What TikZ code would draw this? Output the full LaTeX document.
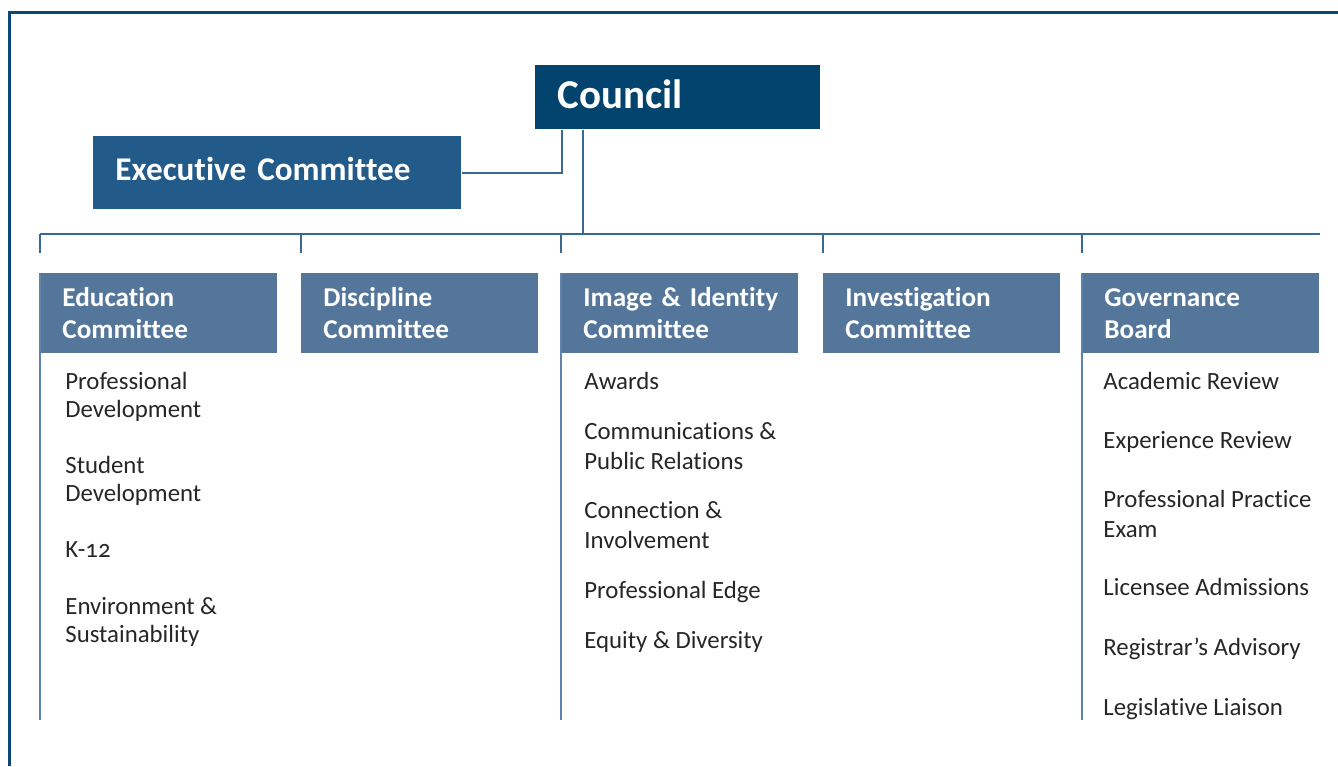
\documentclass[tikz,border=0pt]{standalone}
\usepackage{fontspec}
\setmainfont[Numbers=OldStyle, Ligatures={TeX,NoCommon},
  BoldFeatures={WordSpace=0.7}]{Carlito}
\usepackage{tikz}
\usetikzlibrary{positioning}

\definecolor{frameblue}{HTML}{0A4877}
\definecolor{councilblue}{HTML}{03446F}
\definecolor{execblue}{HTML}{225A89}
\definecolor{cmteblue}{HTML}{54769A}
\definecolor{linkblue}{HTML}{3A6895}
\definecolor{colblue}{HTML}{5E83AC}
\definecolor{itemgrey}{HTML}{262626}

\begin{document}
\begin{tikzpicture}[x=0.5pt,y=-0.5pt,
    box/.style={fill=#1, text=white, anchor=north west, align=left,
      inner xsep=11pt, inner ysep=0pt},
    cmte/.style={minimum width=118.5pt, minimum height=40pt, text width=96.5pt,
      font=\bfseries\fontsize{13.6}{16}\selectfont},
    link/.style={draw=linkblue, line width=1.1pt},
    column/.style={draw=colblue, line width=1.2pt},
    item/.style={anchor=base west, align=left, text=itemgrey, inner sep=0pt,
      font=\fontsize{12.4}{14}\selectfont}]
  \useasboundingbox (0,0) rectangle (1338,766);

  % outer frame
  \draw[frameblue, line width=1.5pt] (9.5,766) -- (9.5,12.5) -- (1338,12.5);

  % top of the tree
  \node[box=councilblue, minimum width=142.5pt, minimum height=32pt, text width=120.5pt,
    text depth=3pt, font=\bfseries\fontsize{20.5}{24}\selectfont] (council) at (535,65) {Council};
  \node[box=execblue, minimum width=184pt, minimum height=36.5pt, text width=162pt,
    text depth=4pt, font=\bfseries\fontsize{16.6}{20}\selectfont] (exec) at (93,136) {Executive Committee};

  % committees
  \foreach \name/\x/\txt in {edu/40/{Education\\Committee},
      disc/301/{Discipline\\Committee},
      img/561/{\mbox{Image \& Identity}\\Committee},
      inv/823/{Investigation\\Committee},
      gov/1082/{Governance\\Board}}
    \node[box=cmteblue, cmte] (\name) at (\x,273) {\txt};

  % connectors
  \coordinate (bus) at (583,234);
  \coordinate (colend) at (0,720);
  \draw[link] (exec.east) -| ([xshift=13.5pt]council.south west);
  \draw[link] ([xshift=24pt]council.south west) -- (bus);
  \draw[link] (edu.north west |- bus) -- (gov.north east |- bus);
  \foreach \name in {edu,disc,img,inv,gov}
    \draw[link] (\name.north west |- bus) -- ++(0,19);
  \foreach \name in {edu,img,gov}
    \draw[column] (\name.north west) -- (\name.north west |- colend);

  % working groups under each committee (y = baseline of last line)
  \foreach \txt/\y [count=\i] in {{Professional\\Development}/417,
      {Student\\Development}/501, {K-12}/557,
      {Environment \&\\Sustainability}/642}
    \node[item] (edu-\i) at (65,\y) {\txt};
  \foreach \txt/\y [count=\i] in {{Awards}/389,
      {Communications \&\\Public Relations}/469,
      {Connection \&\\Involvement}/548,
      {Professional Edge}/598, {Equity \& Diversity}/648}
    \node[item, font=\fontsize{12.4}{14.75}\selectfont] (img-\i) at (584,\y) {\txt};
  \foreach \txt/\y [count=\i] in {{Academic Review}/389,
      {Experience Review}/448,
      {Professional Practice\\Exam}/537,
      {Licensee Admissions}/595, {Registrar’s Advisory}/655,
      {Legislative Liaison}/715}
    \node[item, font=\fontsize{12.4}{15}\selectfont] (gov-\i) at (1103,\y) {\txt};
\end{tikzpicture}
\end{document}
